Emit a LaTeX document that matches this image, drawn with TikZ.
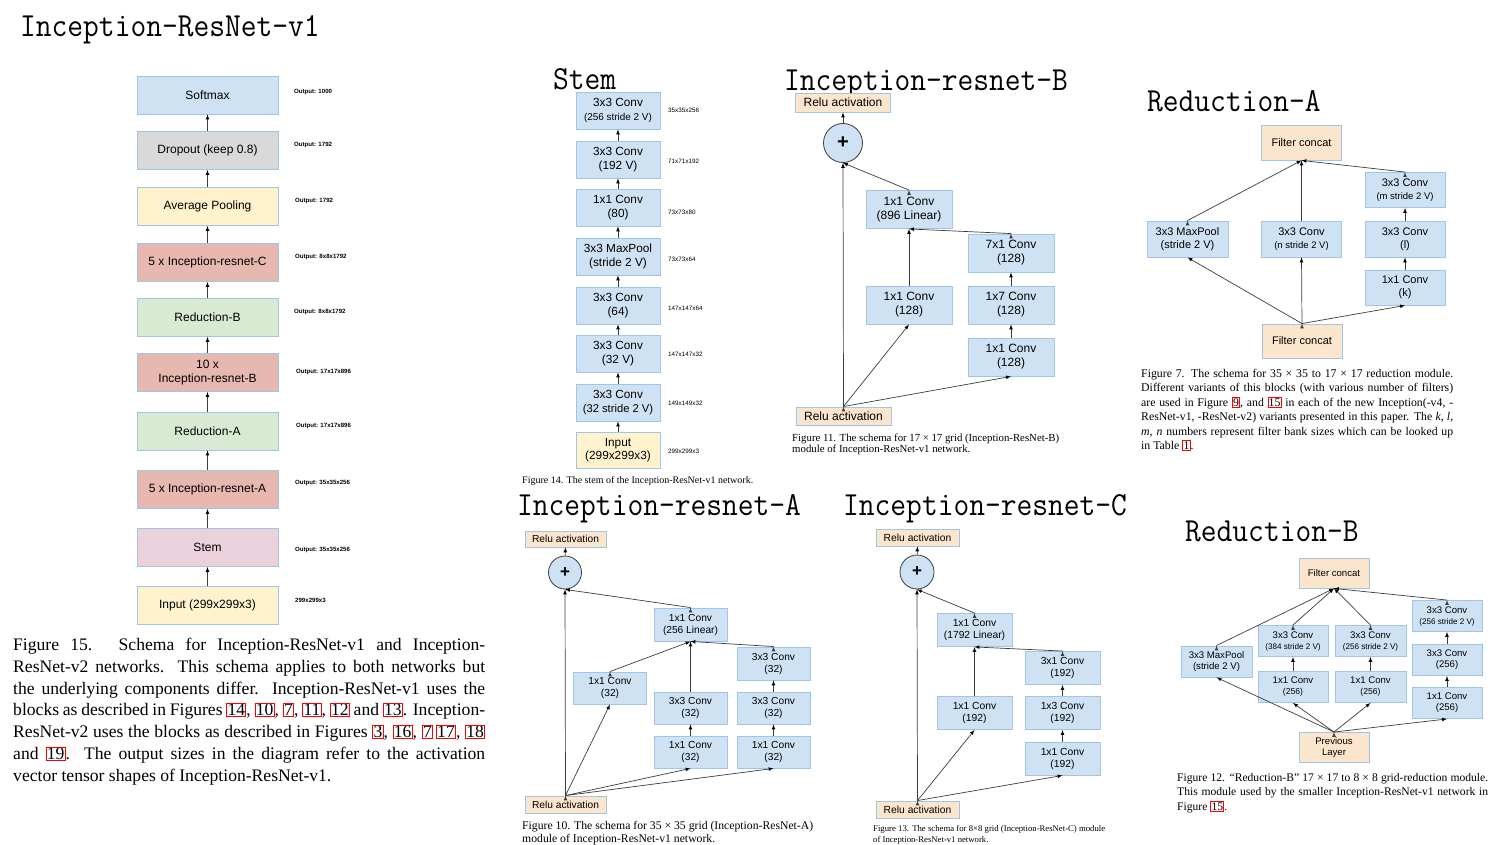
\documentclass[tikz,border=0pt]{standalone}
\usepackage{fontspec}
\setmainfont{Liberation Serif}
\setsansfont{Liberation Sans}

\definecolor{convblue}{HTML}{CFE2F3}
\definecolor{lineblue}{HTML}{9FC5E8}
\definecolor{dropgray}{HTML}{D9D9D9}
\definecolor{poolyellow}{HTML}{FFF2CC}
\definecolor{blockred}{HTML}{E6B8AF}
\definecolor{redgreen}{HTML}{D9EAD3}
\definecolor{stempink}{HTML}{EAD1DC}
\definecolor{reluorange}{HTML}{FCE5CD}
\definecolor{arrowgray}{HTML}{3C3C3C}

\newcommand\fsz[2]{\fontsize{#1}{#2}\selectfont}
\newcommand\jl[2]{\makebox[#1][s]{#2}}
\newcommand\rb[1]{\smash{\textcolor{red}{\setlength\fboxsep{0.3pt}\setlength\fboxrule{0.9pt}\fbox{\textcolor{black}{#1}}}}}

\tikzset{
  blk/.style={draw=lineblue, line width=0.9pt, fill=convblue, align=center, inner sep=0pt},
  netbox/.style={blk, minimum width=141pt, minimum height=38pt, font=\sffamily\fsz{12}{14.5}},
  stembox/.style={blk, minimum width=84pt, minimum height=37pt, font=\sffamily\fsz{11.8}{13.5}},
  ibbox/.style={blk, minimum width=86pt, minimum height=38pt, font=\sffamily\fsz{12}{14}},
  iabox/.style={blk, minimum width=73pt, minimum height=33pt, font=\sffamily\fsz{10.2}{12}},
  icbox/.style={blk, minimum width=75pt, minimum height=33pt, font=\sffamily\fsz{10.3}{12}},
  rabox/.style={blk, minimum width=80pt, minimum height=35pt, font=\sffamily\fsz{11}{13}},
  rbbox/.style={blk, minimum width=70pt, minimum height=31pt, font=\sffamily\fsz{9.6}{11}},
  relu/.style={fill=reluorange},
  plusnode/.style={circle, draw=arrowgray, line width=0.8pt, fill=convblue, inner sep=0pt},
  conn/.style={->, draw=arrowgray, line width=0.7pt},
  ttl/.style={anchor=base west, inner sep=0pt, font=\ttfamily\fsz{30.6}{31}, yscale=1.1, transform shape},
  olbl/.style={anchor=west, inner sep=0pt, font=\sffamily\bfseries\fsz{6.1}{7}},
  slbl/.style={anchor=west, inner sep=0pt, font=\sffamily\fsz{6.3}{7}},
  figcap/.style={anchor=north west, align=left, inner sep=0pt}
}

\begin{document}
\begin{tikzpicture}[x=1pt, y=-1pt, >=latex]
\fill[white] (0,0) rectangle (1492,845);
\useasboundingbox (0,0) rectangle (1492,845);

\node[ttl] (t1) at (20,37) {Inception-ResNet-v1};
\node[ttl] (t2) at (553,90) {Stem};
\node[ttl] (t3) at (784,91) {Inception-resnet-B};
\node[ttl] (t4) at (1147,112) {Reduction-A};
\node[ttl] (t5) at (517,515) {Inception-resnet-A};
\node[ttl] (t6) at (843,515) {Inception-resnet-C};
\node[ttl] (t7) at (1185,541) {Reduction-B};

\node[netbox] (soft) at (207.5,95) {Softmax};
\node[netbox, fill=dropgray] (drop) at (207.5,150.5) {Dropout (keep 0.8)};
\node[netbox, fill=poolyellow] (avg) at (207.5,206.5) {Average Pooling};
\node[netbox, fill=blockred] (incc) at (207.5,262.5) {5 x Inception-resnet-C};
\node[netbox, fill=redgreen] (redb) at (207.5,317.5) {Reduction-B};
\node[netbox, fill=blockred] (incb) at (207.5,372.5) {10 x\\Inception-resnet-B};
\node[netbox, fill=redgreen] (reda) at (207.5,431) {Reduction-A};
\node[netbox, fill=blockred] (inca) at (207.5,489.5) {5 x Inception-resnet-A};
\node[netbox, fill=stempink] (stem) at (207.5,547.5) {Stem};
\node[netbox, fill=poolyellow] (inp) at (207.5,605.5) {Input (299x299x3)};

\draw[conn] (inp) edge (stem);
\draw[conn] (stem) edge (inca);
\draw[conn] (inca) edge (reda);
\draw[conn] (reda) edge (incb);
\draw[conn] (incb) edge (redb);
\draw[conn] (redb) edge (incc);
\draw[conn] (incc) edge (avg);
\draw[conn] (avg) edge (drop);
\draw[conn] (drop) edge (soft);

\node[olbl] (o1) at (294,92) {Output: 1000};
\node[olbl] (o2) at (294,145) {Output: 1792};
\node[olbl] (o3) at (295,201) {Output: 1792};
\node[olbl] (o4) at (295,257) {Output: 8x8x1792};
\node[olbl] (o5) at (294,312) {Output: 8x8x1792};
\node[olbl] (o6) at (296,372) {Output: 17x17x896};
\node[olbl] (o7) at (296,426) {Output: 17x17x896};
\node[olbl] (o8) at (295,483) {Output: 35x35x256};
\node[olbl] (o9) at (295,550) {Output: 35x35x256};
\node[olbl] (o10) at (295,600) {299x299x3};

\node[stembox] (s8) at (618,110.5) {3x3 Conv\\{\fsz{9.9}{11}(256 stride 2 V)}};
\node[stembox] (s7) at (618,159.5) {3x3 Conv\\(192 V)};
\node[stembox] (s6) at (618,207.5) {1x1 Conv\\(80)};
\node[stembox] (s5) at (618,256.5) {3x3 MaxPool\\(stride 2 V)};
\node[stembox] (s4) at (618,305.5) {3x3 Conv\\(64)};
\node[stembox] (s3) at (618,353.5) {3x3 Conv\\(32 V)};
\node[stembox] (s2) at (618,402.5) {3x3 Conv\\{\fsz{11.2}{12}(32 stride 2 V)}};
\node[stembox, fill=poolyellow, minimum height=36pt] (s1) at (618,450) {Input\\(299x299x3)};

\draw[conn] (s1) edge (s2);
\draw[conn] (s2) edge (s3);
\draw[conn] (s3) edge (s4);
\draw[conn] (s4) edge (s5);
\draw[conn] (s5) edge (s6);
\draw[conn] (s6) edge (s7);
\draw[conn] (s7) edge (s8);

\node[slbl] (l8) at (668,110) {35x35x256};
\node[slbl] (l7) at (668,161) {71x71x192};
\node[slbl] (l6) at (668,212) {73x73x80};
\node[slbl] (l5) at (668,259) {73x73x64};
\node[slbl] (l4) at (668,308) {147x147x64};
\node[slbl] (l3) at (668,354) {147x147x32};
\node[slbl] (l2) at (668,403) {149x149x32};
\node[slbl] (l1) at (668,451) {299x299x3};

\node[figcap, anchor=base west, font=\rmfamily\fsz{10}{12}] (cap14) at (522,483) {Figure 14. The stem of the Inception-ResNet-v1 network.};

\node[ibbox, relu, minimum width=95pt, minimum height=19pt] (ibrelut) at (843,102.5) {Relu activation};
\node[plusnode, minimum size=39pt, font=\sffamily\bfseries\fsz{20}{20}] (ibplus) at (843,143) {+};
\node[ibbox] (iblin) at (909,209.5) {1x1 Conv\\(896 Linear)};
\node[ibbox] (ib71) at (1011,253) {7x1 Conv\\(128)};
\node[ibbox] (ib11l) at (909,305) {1x1 Conv\\(128)};
\node[ibbox] (ib17) at (1011,305) {1x7 Conv\\(128)};
\node[ibbox] (ib11r) at (1011,357) {1x1 Conv\\(128)};
\node[ibbox, relu, minimum width=95pt, minimum height=18pt] (ibrelub) at (843.5,416) {Relu activation};

\draw[conn] (ibrelub.north) edge (ibplus.south) edge (ib11l.south) edge (ib11r.south);
\draw[conn] (ib11r) edge (ib17);
\draw[conn] (ib17) edge (ib71);
\draw[conn] (ib11l) edge (iblin);
\draw[conn] (ib71.north) edge (iblin.south);
\draw[conn] (iblin.north) edge (ibplus.south);
\draw[conn] (ibplus) edge (ibrelut);

\node[figcap, font=\rmfamily\fsz{10.8}{11.5}] (cap11) at (792,433.6) {\jl{267pt}{Figure 11. The schema for 17 × 17 grid (Inception-ResNet-B)}\\module of Inception-ResNet-v1 network.};

\node[rabox, relu] (rafct) at (1301.5,142.5) {Filter concat};
\node[rabox] (ram) at (1405,190) {3x3 Conv\\{\fsz{9.5}{11}(m stride 2 V)}};
\node[rabox, minimum width=81pt, minimum height=36pt] (ramp) at (1187.5,239) {3x3 MaxPool\\(stride 2 V)};
\node[rabox, minimum height=36pt] (ran) at (1301.5,239) {3x3 Conv\\{\fsz{9.5}{11}(n stride 2 V)}};
\node[rabox, minimum height=36pt] (ral) at (1405,239) {3x3 Conv\\(l)};
\node[rabox] (rak) at (1405,287.5) {1x1 Conv\\(k)};
\node[rabox, relu, minimum height=34pt] (rafcb) at (1302,341) {Filter concat};

\draw[conn] (rafcb.north) edge (ramp.south) edge (ran.south) edge (rak.south);
\draw[conn] (rak) edge (ral);
\draw[conn] (ral) edge (ram);
\draw[conn] (ramp.north) edge (rafct.south);
\draw[conn] (ran) edge (rafct);
\draw[conn] (ram.north) edge (rafct.south);

\node[figcap, font=\rmfamily\fsz{11.8}{14.4}] (cap7) at (1141,368.9) {\jl{312pt}{Figure 7. The schema for 35 × 35 to 17 × 17 reduction module.}\\
\jl{312pt}{Different variants of this blocks (with various number of filters)}\\
\jl{312pt}{are used in Figure \rb{9}, and \rb{15} in each of the new Inception(-v4, -}\\
\jl{312pt}{ResNet-v1, -ResNet-v2) variants presented in this paper. The \textit{k}, \textit{l},}\\
\jl{312pt}{\textit{m}, \textit{n} numbers represent filter bank sizes which can be looked up}\\
in Table \rb{1}.};

\node[iabox, relu, minimum width=81pt, minimum height=16pt] (iarelut) at (565.5,539) {Relu activation};
\node[plusnode, minimum size=33pt, font=\sffamily\bfseries\fsz{17}{17}] (iaplus) at (565,572.5) {+};
\node[iabox] (ialin) at (690.5,624.5) {1x1 Conv\\(256 Linear)};
\node[iabox] (ia33t) at (773.5,663.5) {3x3 Conv\\(32)};
\node[iabox, minimum height=32pt] (ia11l) at (610,688) {1x1 Conv\\(32)};
\node[iabox, minimum height=32pt] (ia33m) at (690.5,708) {3x3 Conv\\(32)};
\node[iabox, minimum height=32pt] (ia33r) at (773.5,708) {3x3 Conv\\(32)};
\node[iabox, minimum height=32pt] (ia11m) at (690.5,752) {1x1 Conv\\(32)};
\node[iabox, minimum height=32pt] (ia11r) at (773.5,752) {1x1 Conv\\(32)};
\node[iabox, relu, minimum width=81pt, minimum height=17pt] (iarelub) at (565.5,804.5) {Relu activation};

\draw[conn] (iarelub.north) edge (iaplus.south) edge (ia11l.south) edge (ia11m.south) edge (ia11r.south);
\draw[conn] (ia11m) edge (ia33m);
\draw[conn] (ia33m) edge (ialin);
\draw[conn] (ia11r) edge (ia33r);
\draw[conn] (ia33r) edge (ia33t);
\draw[conn] (ia11l.north) edge (ialin.south);
\draw[conn] (ia33t.north) edge (ialin.south);
\draw[conn] (ialin.north) edge (iaplus.south);
\draw[conn] (iaplus) edge (iarelut);

\node[figcap, font=\rmfamily\fsz{11.7}{13}] (cap10) at (522,820.9) {\jl{291pt}{Figure 10. The schema for 35 × 35 grid (Inception-ResNet-A)}\\module of Inception-ResNet-v1 network.};

\node[icbox, relu, minimum width=83pt, minimum height=17pt] (icrelut) at (917.5,537.5) {Relu activation};
\node[plusnode, minimum size=34pt, font=\sffamily\bfseries\fsz{17}{17}] (icplus) at (917,572) {+};
\node[icbox] (iclin) at (974.5,630) {1x1 Conv\\(1792 Linear)};
\node[icbox] (ic31) at (1062.5,668) {3x1 Conv\\(192)};
\node[icbox] (ic11l) at (974.5,713) {1x1 Conv\\(192)};
\node[icbox] (ic13) at (1062.5,713) {1x3 Conv\\(192)};
\node[icbox] (ic11r) at (1062.5,758.5) {1x1 Conv\\(192)};
\node[icbox, relu, minimum width=83pt, minimum height=17pt] (icrelub) at (917.5,809.5) {Relu activation};

\draw[conn] (icrelub.north) edge (icplus.south) edge (ic11l.south) edge (ic11r.south);
\draw[conn] (ic11r) edge (ic13);
\draw[conn] (ic13) edge (ic31);
\draw[conn] (ic11l) edge (iclin);
\draw[conn] (ic31.north) edge (iclin.south);
\draw[conn] (iclin.north) edge (icplus.south);
\draw[conn] (icplus) edge (icrelut);

\node[figcap, font=\rmfamily\fsz{8.7}{11.5}] (cap13) at (873,825) {\jl{232pt}{Figure 13. The schema for 8×8 grid (Inception-ResNet-C) module}\\of Inception-ResNet-v1 network.};

\node[rbbox, relu, minimum height=30pt] (rbfc) at (1334,573) {Filter concat};
\node[rbbox] (rbtop) at (1447,616) {3x3 Conv\\{\fsz{8.1}{10}(256 stride 2 V)}};
\node[rbbox, minimum width=71pt] (rbmp) at (1216.5,661.5) {3x3 MaxPool\\(stride 2 V)};
\node[rbbox] (rb384) at (1293,641) {3x3 Conv\\{\fsz{8.1}{10}(384 stride 2 V)}};
\node[rbbox, minimum width=71pt] (rb256) at (1370.5,641) {3x3 Conv\\{\fsz{8.1}{10}(256 stride 2 V)}};
\node[rbbox] (rb33) at (1447,660) {3x3 Conv\\(256)};
\node[rbbox] (rb11a) at (1293,687) {1x1 Conv\\{\fsz{8.6}{10}(256)}};
\node[rbbox, minimum width=71pt] (rb11b) at (1370.5,687) {1x1 Conv\\{\fsz{8.6}{10}(256)}};
\node[rbbox] (rb11c) at (1447,703) {1x1 Conv\\(256)};
\node[rbbox, relu, minimum height=30pt] (rbprev) at (1334,747.5) {Previous\\Layer};

\draw[conn] (rbprev.north) edge (rbmp.south) edge (rb11a.south) edge (rb11b.south) edge (rb11c.south);
\draw[conn] (rb11a) edge (rb384);
\draw[conn] (rb11b) edge (rb256);
\draw[conn] (rb11c) edge (rb33);
\draw[conn] (rb33) edge (rbtop);
\draw[conn] (rbmp.north) edge (rbfc.south);
\draw[conn] (rb384.north) edge (rbfc.south);
\draw[conn] (rb256.north) edge (rbfc.south);
\draw[conn] (rbtop.north) edge (rbfc.south);

\node[figcap, font=\rmfamily\fsz{11.6}{14.5}] (cap12) at (1177,773) {\jl{311pt}{Figure 12. “Reduction-B” 17 × 17 to 8 × 8 grid-reduction module.}\\
\jl{311pt}{This module used by the smaller Inception-ResNet-v1 network in}\\
Figure \rb{15}.};

\node[figcap, font=\rmfamily\fsz{17.6}{21.8}] (cap15) at (13,638) {\jl{472pt}{Figure 15. Schema for Inception-ResNet-v1 and Inception-}\\
\jl{472pt}{ResNet-v2 networks. This schema applies to both networks but}\\
\jl{472pt}{the underlying components differ. Inception-ResNet-v1 uses the}\\
\jl{472pt}{blocks as described in Figures \rb{14}, \rb{10}, \rb{7}, \rb{11}, \rb{12} and \rb{13}. Inception-}\\
\jl{472pt}{ResNet-v2 uses the blocks as described in Figures \rb{3}, \rb{16}, \rb{7}\,\rb{17}, \rb{18}}\\
\jl{472pt}{and \rb{19}. The output sizes in the diagram refer to the activation}\\
vector tensor shapes of Inception-ResNet-v1.};
\end{tikzpicture}
\end{document}
